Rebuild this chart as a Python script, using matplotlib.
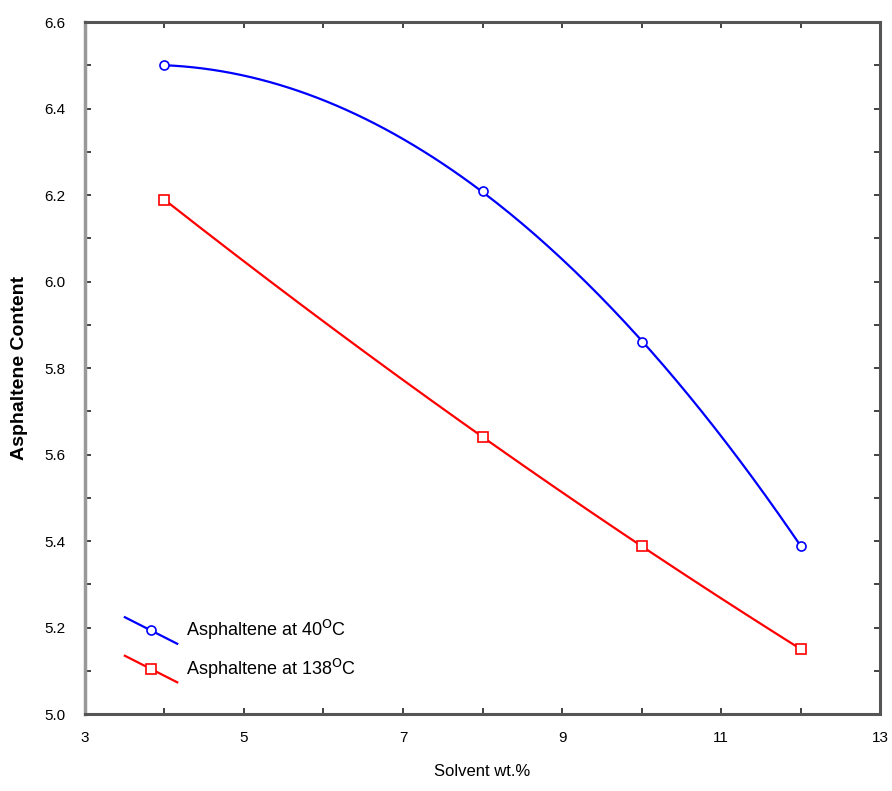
import numpy as np
import matplotlib.pyplot as plt
from matplotlib.lines import Line2D
from matplotlib.legend_handler import HandlerLine2D

plt.rcParams['font.family'] = ['Liberation Sans', 'DejaVu Sans']

solvent = [4, 8, 10, 12]
asph_40 = [6.50, 6.21, 5.86, 5.39]
asph_138 = [6.19, 5.64, 5.39, 5.15]


class DiagonalHandler(HandlerLine2D):
    # legend key drawn as a short falling line with the marker in the middle
    def create_artists(self, legend, orig_handle, xdescent, ydescent,
                       width, height, fontsize, trans):
        x0, x1 = -xdescent, -xdescent + width
        y0, y1 = -ydescent + height * 1.5, -ydescent - height * 0.6
        line = Line2D([x0, x1], [y0, y1], color=orig_handle.get_color(),
                      lw=orig_handle.get_linewidth())
        mark = Line2D([(x0 + x1) / 2], [(y0 + y1) / 2],
                      marker=orig_handle.get_marker(), ls='none',
                      mfc='white', mec=orig_handle.get_color(),
                      ms=orig_handle.get_markersize(), mew=1.2)
        line.set_transform(trans)
        mark.set_transform(trans)
        return [line, mark]


fig = plt.figure(figsize=(8.92, 7.91), dpi=100)
ax = fig.add_axes([0.095, 0.097, 0.892, 0.875])

xs = np.linspace(4, 12, 200)
handles = []
for y, col, mk, lab in [(asph_40, '#0000ff', 'o', r'Asphaltene at 40$^{\rm O}$C'),
                        (asph_138, '#ff0000', 's', r'Asphaltene at 138$^{\rm O}$C')]:
    fit = np.poly1d(np.polyfit(solvent, y, 2))
    ax.plot(xs, fit(xs), color=col, lw=1.6)
    ax.plot(solvent, y, ls='none', marker=mk, mfc='white', mec=col, ms=6.5, mew=1.2)
    handles.append(Line2D([], [], color=col, lw=1.6, marker=mk, ms=6.5, label=lab))

ax.set_xlim(3, 13)
ax.set_ylim(5.0, 6.6)
ax.set_xticks(np.arange(3, 14, 2))
ax.set_xticks(np.arange(3, 14, 1), minor=True)
ax.set_yticks(np.arange(5.0, 6.61, 0.2))
ax.set_yticks(np.arange(5.0, 6.61, 0.1), minor=True)
ax.yaxis.set_major_formatter(plt.FormatStrFormatter('%.1f'))
ax.tick_params(which='both', direction='in', length=4, width=1.2,
               labelsize=11, color='#222222', top=True, right=True)
ax.tick_params(axis='y', pad=14)
ax.tick_params(axis='x', pad=12)

for side in ['top', 'bottom', 'right']:
    ax.spines[side].set_linewidth(2.2)
    ax.spines[side].set_color('#555555')
ax.spines['left'].set_linewidth(2.5)
ax.spines['left'].set_color('#999999')

ax.set_xlabel('Solvent wt.%', fontsize=12, labelpad=14)
ax.set_ylabel('Asphaltene Content', fontsize=14, fontweight='bold', labelpad=12)

ax.legend(handles=handles, loc='lower left', bbox_to_anchor=(0.03, 0.025),
          frameon=False, fontsize=13, handlelength=2.9, handletextpad=0.5,
          labelspacing=0.8, handler_map={Line2D: DiagonalHandler()})

fig.savefig('out.png', dpi=100)
